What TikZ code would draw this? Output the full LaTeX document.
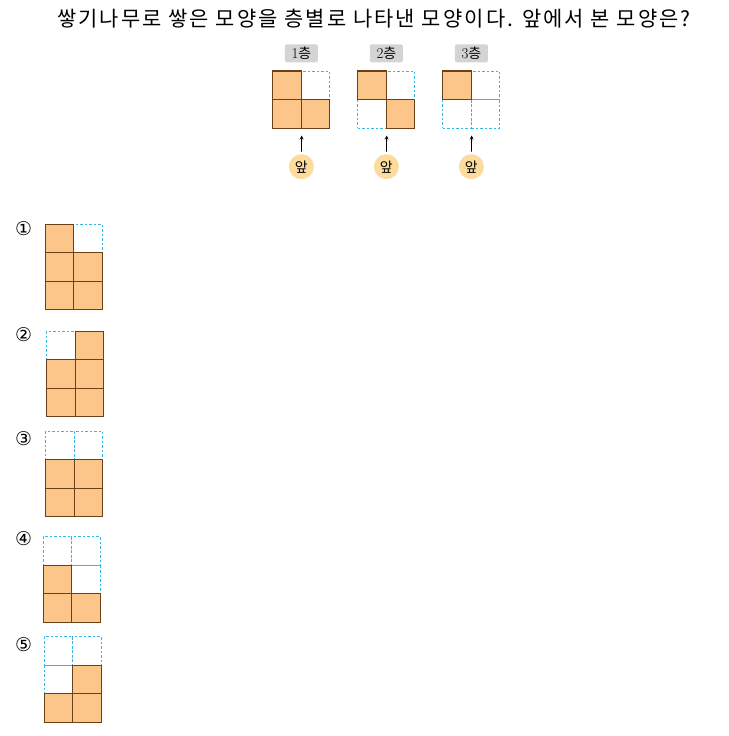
\documentclass[tikz,border=0pt]{standalone}
\usepackage{fontspec}
\newfontfamily\krfont{Noto Sans CJK KR}
\newfontfamily\titlefont[LetterSpace=10]{Noto Sans CJK KR}
\newfontfamily\symfont{DejaVu Sans}
\definecolor{blkfill}{HTML}{FCC68A}
\definecolor{blkline}{HTML}{6B4218}
\definecolor{gapline}{HTML}{35B6E8}
\definecolor{tagfill}{HTML}{D4D4D4}
\definecolor{frontfill}{HTML}{FDDB9C}

\begin{document}
\begin{tikzpicture}
    \tikzset{x=1bp, y=-1bp, >=stealth}
    \tikzstyle{gap}=[rectangle, draw=gapline, dash pattern=on 2.5bp off 2bp, line width=0.9bp, minimum size=28.5bp, inner sep=0pt]
    \tikzstyle{blk}=[rectangle, draw=blkline, fill=blkfill, line width=1.1bp, minimum size=28.5bp, inner sep=0pt]
    \tikzstyle{tag}=[rectangle, rounded corners=2bp, fill=tagfill, minimum width=33bp, minimum height=18bp, inner sep=0pt, font=\fontsize{15}{15}\selectfont]
    \tikzstyle{front}=[circle, fill=frontfill, minimum size=25bp, inner sep=0pt, font=\krfont\fontsize{14}{14}\selectfont]
    \tikzstyle{num}=[inner sep=0pt, font=\symfont\fontsize{19}{19}\selectfont]

    \useasboundingbox (0,0) rectangle (729,736);

    % question
    \draw (374,19)  node[font=\titlefont\fontsize{21}{21}\selectfont] (title) {쌓기나무로 쌓은 모양을 층별로 나타낸 모양이다. 앞에서 본 모양은?};

    % layers: dashed grids, tags and front marks
    \foreach \l in {1,2,3} {
        \foreach \i in {0,1}
            \foreach \j in {0,1}
                \draw ({202+85*\l+28.5*\i}, {85.3+28.5*\j}) node[gap] (lgap\l\i\j) {};
        \draw ({216.4+85*\l}, 53.3)  node[tag]   (tag\l)   {\l\krfont\fontsize{14}{14}\selectfont 층};
        \draw ({216.4+85*\l}, 166.7) node[front] (front\l) {앞};
        \draw [->, line width=0.8bp, shorten <=2.5bp, shorten >=7bp] (front\l) -- (lgap\l01.south east);
    }

    % layer 1
    \node[blk] (lblk100) at (lgap100) {};
    \node[blk] (lblk101) at (lgap101) {};
    \node[blk] (lblk111) at (lgap111) {};

    % layer 2
    \node[blk] (lblk200) at (lgap200) {};
    \node[blk] (lblk211) at (lgap211) {};

    % layer 3
    \node[blk] (lblk300) at (lgap300) {};

    % choices: numbers and dashed grids
    \foreach \o/\ox/\oy/\ny in {1/59.3/238.5/228.3, 2/61/345.3/334.7, 3/60/445.3/438.7, 4/57.5/551/538.7, 5/58.5/651/645} {
        \draw (23.5,\ny) node[num] (num\o) {\ifcase\o\or ①\or ②\or ③\or ④\or ⑤\fi};
        \foreach \i in {0,1}
            \foreach \j in {0,1,2}
                \draw ({\ox+28.5*\i}, {\oy+28.5*\j}) node[gap] (ogap\o\i\j) {};
    }

    % choice 1
    \foreach \c in {00,01,11,02,12}
        \node[blk] (oblk1\c) at (ogap1\c) {};

    % choice 2
    \foreach \c in {10,01,11,02,12}
        \node[blk] (oblk2\c) at (ogap2\c) {};

    % choice 3
    \foreach \c in {01,11,02,12}
        \node[blk] (oblk3\c) at (ogap3\c) {};

    % choice 4
    \foreach \c in {01,02,12}
        \node[blk] (oblk4\c) at (ogap4\c) {};

    % choice 5
    \foreach \c in {11,02,12}
        \node[blk] (oblk5\c) at (ogap5\c) {};
\end{tikzpicture}
\end{document}
